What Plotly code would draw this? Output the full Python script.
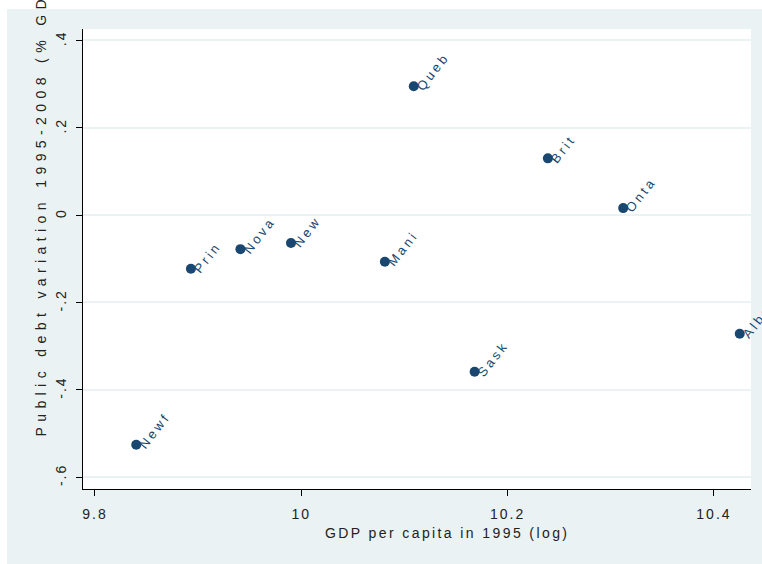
import plotly.graph_objects as go

# Data
provinces = ["Newf", "Prin", "Nova", "New", "Mani", "Queb", "Sask", "Brit", "Onta", "Albe"]
gdp_log = [9.840, 9.893, 9.941, 9.990, 10.081, 10.109, 10.168, 10.239, 10.312, 10.425]
debt_var = [-0.526, -0.123, -0.078, -0.064, -0.107, 0.295, -0.359, 0.130, 0.016, -0.272]

x_ticks = [9.8, 10.0, 10.2, 10.4]
x_ticktext = ["9.8", "10", "10.2", "10.4"]
y_ticks = [-0.6, -0.4, -0.2, 0.0, 0.2, 0.4]
y_ticktext = ["-.6", "-.4", "-.2", "0", ".2", ".4"]

NAVY = "#1a476f"
BG = "#eaf2f3"
TXT = "#222222"
FONT = "Liberation Sans, Arial, sans-serif"

W, H = 762, 564
L, R, T, B = 83, 11, 29, 75
pw, ph = W - L - R, H - T - B


def spaced(s, px):
    return f'<span style="letter-spacing:{px}px">{s}</span>'


def px_to_paper_x(px):
    return (px - L) / pw


def px_to_paper_y(py):
    return (H - B - py) / ph


fig = go.Figure()
fig.add_trace(go.Scatter(
    x=gdp_log, y=debt_var, mode="markers",
    marker=dict(color=NAVY, size=10, line=dict(width=0)),
    cliponaxis=False, hoverinfo="skip", showlegend=False,
))

annotations = []
for name, xv, yv in zip(provinces, gdp_log, debt_var):
    annotations.append(dict(
        x=xv, y=yv, xref="x", yref="y", text=spaced(name, 3),
        textangle=-52, xanchor="left", yanchor="bottom", showarrow=False,
        xshift=-3, yshift=-10,
        font=dict(family=FONT, size=13, color=NAVY),
    ))

# axis titles
annotations.append(dict(
    x=px_to_paper_x(40), y=px_to_paper_y(439), xref="paper", yref="paper",
    text=spaced("Public debt variation 1995-2008 (% GDP)", 5.4),
    textangle=-90, xanchor="center", yanchor="bottom", showarrow=False,
    font=dict(family=FONT, size=14, color=TXT),
))
annotations.append(dict(
    x=px_to_paper_x(447), y=px_to_paper_y(533), xref="paper", yref="paper",
    text=spaced("GDP per capita in 1995 (log)", 2.4),
    xanchor="center", yanchor="middle", showarrow=False,
    font=dict(family=FONT, size=14, color=TXT),
))

shapes = [
    # white strips outside the grey graph region (top and left)
    dict(type="rect", xref="paper", yref="paper", layer="above",
         x0=px_to_paper_x(0), x1=px_to_paper_x(W), y0=px_to_paper_y(9), y1=px_to_paper_y(-5),
         fillcolor="white", line=dict(width=0)),
    dict(type="rect", xref="paper", yref="paper", layer="above",
         x0=px_to_paper_x(-5), x1=px_to_paper_x(7), y0=px_to_paper_y(H + 5), y1=px_to_paper_y(-5),
         fillcolor="white", line=dict(width=0)),
]

fig.update_layout(
    width=W, height=H,
    margin=dict(l=L, r=R, t=T, b=B, pad=0),
    paper_bgcolor=BG, plot_bgcolor="white",
    font=dict(family=FONT, size=14, color=TXT),
    showlegend=False,
    annotations=annotations,
    shapes=shapes,
    xaxis=dict(
        range=[9.7884, 10.4359], tickvals=x_ticks,
        ticktext=[spaced(t, 2) for t in x_ticktext],
        showgrid=False, zeroline=False,
        showline=True, linecolor="black", linewidth=1,
        ticks="outside", ticklen=6, tickcolor="black", tickwidth=1,
        ticklabelstandoff=6,
        tickfont=dict(family=FONT, size=14, color=TXT),
    ),
    yaxis=dict(
        range=[-0.6275, 0.4263], tickvals=y_ticks,
        ticktext=[spaced(t, 2) for t in y_ticktext],
        showgrid=True, gridcolor=BG, gridwidth=1.5, zeroline=False,
        showline=True, linecolor="black", linewidth=1,
        ticks="outside", ticklen=6, tickcolor="black", tickwidth=1,
        tickangle=-90, ticklabelstandoff=4,
        tickfont=dict(family=FONT, size=14, color=TXT),
    ),
)

fig.write_html("out.html")
